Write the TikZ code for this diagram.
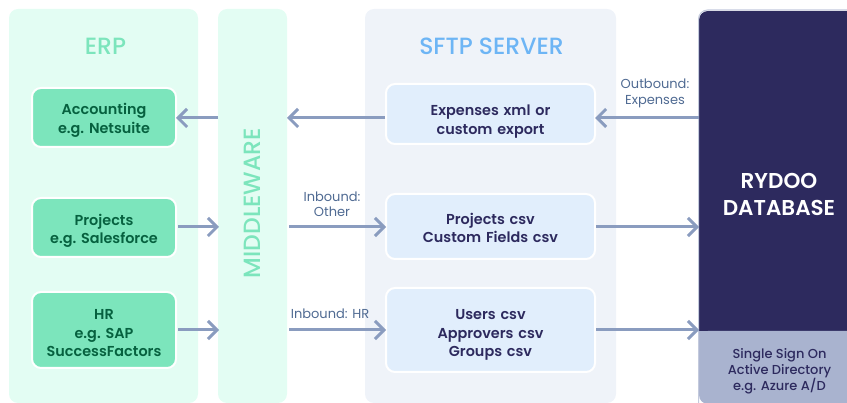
\documentclass[tikz,border=0pt]{standalone}
\usepackage{fontspec}
\setmainfont{Poppins}
\newfontfamily\semi{Poppins SemiBold}
\newfontfamily\medi{Poppins Medium}
\usetikzlibrary{arrows.meta}
\definecolor{mintbg}{HTML}{E3FDF3}
\definecolor{mint}{HTML}{7CE5BC}
\definecolor{minttext}{HTML}{06613F}
\definecolor{greybg}{HTML}{EFF3F9}
\definecolor{bluebox}{HTML}{E1EEFC}
\definecolor{navy}{HTML}{2D2A5E}
\definecolor{lav}{HTML}{A9B3CF}
\definecolor{arrowc}{HTML}{8A9CBF}
\definecolor{labelc}{HTML}{4F6A92}
\definecolor{sftpc}{HTML}{6DB5F5}
\newcommand\topgap[1]{\rule{0pt}{#1pt}}
\tikzset{
 panel/.style={draw=none,rounded corners=9pt,minimum height=394pt,anchor=north west,inner sep=0pt,outer sep=0pt},
 erpbox/.style={draw=white,line width=2pt,fill=mint,rounded corners=9pt,minimum width=144pt,anchor=north west,inner sep=0pt,outer sep=0pt,align=center,text=minttext,font=\fontsize{14.4}{18.5}\selectfont\semi\frenchspacing,text width=144pt},
 sftpbox/.style={draw=white,line width=2pt,fill=bluebox,rounded corners=9pt,minimum width=209pt,anchor=north west,inner sep=0pt,outer sep=0pt,align=center,text=navy,font=\fontsize{14.4}{18.5}\selectfont\semi\frenchspacing,text width=209pt},
 flow/.style={draw=arrowc,line width=3pt,-{Straight Barb[length=9pt,width=18pt,line width=3pt]}},
 flowlabel/.style={text=labelc,font=\fontsize{13}{15.5}\selectfont,align=center,inner sep=0pt},
 title/.style={font=\fontsize{23.5}{28}\selectfont\medi,inner sep=0pt}
}
\begin{document}
\begin{tikzpicture}[x=1pt,y=-1pt]
\useasboundingbox (0,0) rectangle (847,403);
\node[panel,fill=mintbg,minimum width=189pt] (erp) at (9,9) {};
\node[panel,fill=mintbg,minimum width=69pt] (mw) at (218,9) {};
\node[panel,fill=greybg,minimum width=251pt] (sftp) at (365,9) {};
\node[title,text=mint] (erpt) at (105.5,46) {ERP};
\node[title,text=sftpc] (sftpt) at (491.5,46) {SFTP SERVER};
\node[title,text=mint,rotate=90] (mwt) at (252,203) {MIDDLEWARE};
\node[erpbox,minimum height=59pt] (acc) at (32,88) {\topgap{17}Accounting\\e.g. Netsuite};
\node[erpbox,minimum height=59pt] (proj) at (32,198) {\topgap{18}Projects\\e.g. Salesforce};
\node[erpbox,minimum height=76pt] (hr) at (32,292) {\topgap{17}HR\\e.g. SAP\\SuccessFactors};
\node[sftpbox,minimum height=60pt] (exp) at (386,84) {\topgap{26}Expenses xml or\\custom export};
\node[sftpbox,minimum height=65pt] (pc) at (386,194) {\topgap{14}Projects csv\\Custom Fields csv};
\node[sftpbox,minimum height=84pt] (uc) at (386,288) {\topgap{20}Users csv\\Approvers csv\\Groups csv};
\fill[navy,rounded corners=9pt] (699,11) -- (860,11) -- (860,340) -- (699,340) -- cycle;
\fill[lav,rounded corners=9pt] (699,331) -- (860,331) -- (860,404) -- (699,404) -- cycle;
\fill[lav] (699,331) rectangle (720,360);
\draw[draw=lav!70,line width=1pt,rounded corners=9pt] (860,10) -- (698.5,10) -- (698.5,404);
\node[text=white,font=\fontsize{21.5}{27}\selectfont\semi,align=center,inner sep=0pt] (dbt) at (779,194) {RYDOO\\DATABASE};
\node[text=navy,font=\fontsize{13}{16}\selectfont\medi,align=center,inner sep=0pt] (sso) at (779.5,371) {Single Sign On\\Active Directory\\e.g. Azure A/D};
\coordinate (a1) at (218,118); \coordinate (a2) at (176,118);
\draw[flow] (a1) -- (a2);
\coordinate (b1) at (385,118); \coordinate (b2) at (287,118);
\draw[flow] (b1) -- (b2);
\coordinate (c1) at (699,118); \coordinate (c2) at (595,118);
\draw[flow] (c1) -- (c2);
\coordinate (d1) at (178,227); \coordinate (d2) at (219,227);
\draw[flow] (d1) -- (d2);
\coordinate (e1) at (289,227); \coordinate (e2) at (386,227);
\draw[flow] (e1) -- (e2);
\coordinate (f1) at (596,227); \coordinate (f2) at (699,227);
\draw[flow] (f1) -- (f2);
\coordinate (g1) at (178,330); \coordinate (g2) at (219,330);
\draw[flow] (g1) -- (g2);
\coordinate (h1) at (289,330); \coordinate (h2) at (386,330);
\draw[flow] (h1) -- (h2);
\coordinate (i1) at (596,330); \coordinate (i2) at (699,330);
\draw[flow] (i1) -- (i2);
\node[flowlabel] (l1) at (655,93.5) {Outbound:\\Expenses};
\node[flowlabel] (l2) at (332,204.5) {Inbound:\\Other};
\node[flowlabel] (l3) at (330,314) {Inbound: HR};
\end{tikzpicture}
\end{document}
